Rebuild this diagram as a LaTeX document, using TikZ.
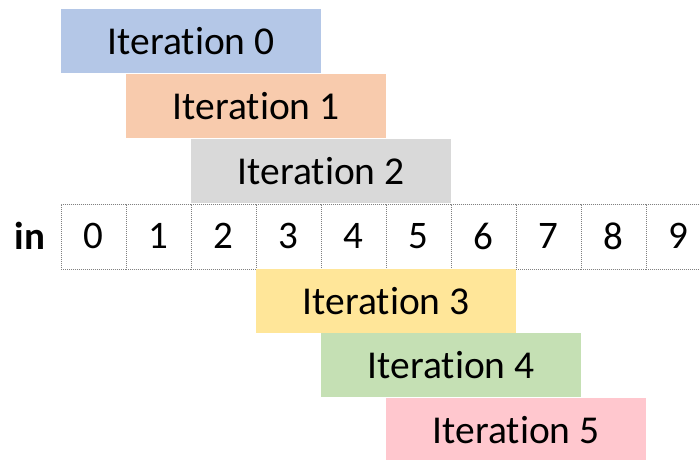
\documentclass[tikz,border=0pt]{standalone}
\usepackage{fontspec}
\setmainfont{Carlito}[Ligatures=NoCommon]
\begin{document}
\begin{tikzpicture}[x=1pt,y=-1pt,
  iterbox/.style={draw=none,inner sep=0pt,minimum width=260pt,minimum height=64pt,anchor=north west,font=\fontsize{39.5}{39.5}\selectfont},
  cellbox/.style={draw=gray,dash pattern=on 1pt off 1pt,line width=0.6pt,inner sep=0pt,minimum width=65pt,minimum height=65pt,anchor=north west,font=\fontsize{39}{39}\selectfont},
  lbl/.style={font=\fontsize{39}{39}\selectfont\bfseries}]
\useasboundingbox (0,0) rectangle (700,459);
\definecolor{itblue}{HTML}{B4C7E7}
\definecolor{itorange}{HTML}{F8CBAD}
\definecolor{itgray}{HTML}{D9D9D9}
\definecolor{ityellow}{HTML}{FFE699}
\definecolor{itgreen}{HTML}{C5E0B4}
\definecolor{itpink}{HTML}{FFC7CE}
\begin{scope}
\clip (0,0) rectangle (700,459);
% iterations above the array
\node[iterbox,fill=itblue]   (it0) at (61,9)   {Iteration 0};
\node[iterbox,fill=itorange] (it1) at (126,74) {Iteration 1};
\node[iterbox,fill=itgray]   (it2) at (191,139) {Iteration 2};
% the input array
\node[lbl] (in) at (30,236) {in};
\foreach \i in {0,...,9}
  \node[cellbox] (c\i) at ({61+65*\i},203.5) {\i};
% iterations below the array
\node[iterbox,fill=ityellow] (it3) at (256,268.5) {Iteration 3};
\node[iterbox,fill=itgreen]  (it4) at (321,333) {Iteration 4};
\node[iterbox,fill=itpink]   (it5) at (386,398) {Iteration 5};
\end{scope}
\end{tikzpicture}
\end{document}
